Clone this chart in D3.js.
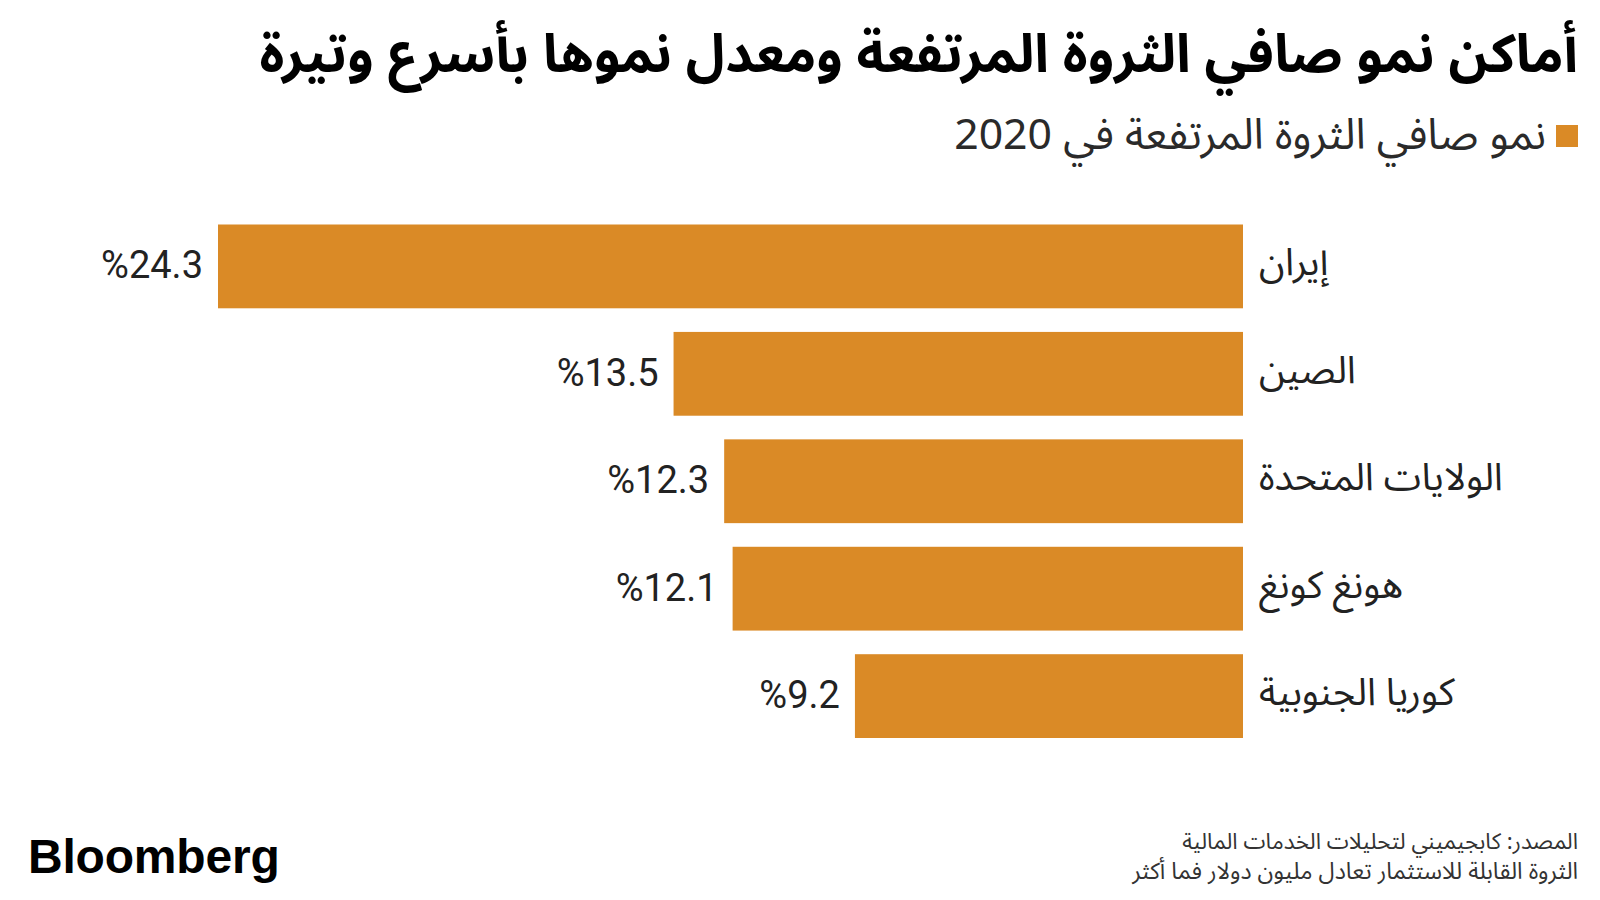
<!DOCTYPE html>
<html lang="ar">
<head>
<meta charset="utf-8">
<script src="https://cdn.jsdelivr.net/npm/d3@7/dist/d3.min.js"></script>
<style>
  html, body { margin: 0; padding: 0; background: #fff; }
  svg { display: block; }
</style>
</head>
<body>
<script>
// ---- data ----
const categories = ["إيران", "الصين", "الولايات المتحدة", "هونغ كونغ", "كوريا الجنوبية"];
const values = [24.3, 13.5, 12.3, 12.1, 9.2];
const valueLabels = ["%24.3", "%13.5", "%12.3", "%12.1", "%9.2"];
const title = "أماكن نمو صافي الثروة المرتفعة ومعدل نموها بأسرع وتيرة";
const legendLabel = "نمو صافي الثروة المرتفعة في 2020";
const sourceLines = ["المصدر: كابجيميني لتحليلات الخدمات المالية", "الثروة القابلة للاستثمار تعادل مليون دولار فما أكثر"];
const brand = "Bloomberg";

const W = 1600, H = 900;
const orange = "#DA8A26";
const arabicFont = "'Noto Sans Arabic', 'Noto Naskh Arabic', 'DejaVu Sans', sans-serif";

const svg = d3.select("body").append("svg").attr("width", W).attr("height", H);
svg.append("rect").attr("width", W).attr("height", H).attr("fill", "#fff");

function fit(sel, target) {
  const s0 = parseFloat(sel.attr("font-size"));
  const w = sel.node().getComputedTextLength();
  if (w > 0) sel.attr("font-size", s0 * target / w);
  return sel;
}

// ---- title ----
const t = svg.append("text")
  .attr("x", 1578).attr("y", 72)
  .attr("direction", "rtl").attr("text-anchor", "start")
  .attr("font-family", arabicFont).attr("font-weight", "bold")
  .attr("font-size", 44).attr("fill", "#000")
  .text(title);
fit(t, 1319);

// ---- legend ----
svg.append("rect").attr("x", 1556).attr("y", 125).attr("width", 22).attr("height", 22).attr("fill", orange);
const lg = svg.append("text")
  .attr("x", 1546).attr("y", 149)
  .attr("direction", "rtl").attr("text-anchor", "start")
  .attr("font-family", arabicFont).attr("font-size", 34).attr("fill", "#2a2a2a")
  .text(legendLabel);
fit(lg, 592);

// ---- scales ----
const x = d3.scaleLinear().domain([0, 25]).range([1243, 1243 - 25 * (1025 / 24.3)]);
const y = d3.scaleBand().domain(categories).range([224.5, 738]).paddingInner(0.22).paddingOuter(0);

const g = svg.append("g");
g.selectAll("rect.bar").data(values).join("rect")
  .attr("class", "bar")
  .attr("x", d => x(d))
  .attr("width", d => x(0) - x(d))
  .attr("y", (d, i) => y(categories[i]))
  .attr("height", y.bandwidth())
  .attr("fill", orange);

g.selectAll("text.val").data(values).join("text")
  .attr("class", "val")
  .attr("x", d => x(d) - 15)
  .attr("y", (d, i) => y(categories[i]) + y.bandwidth() / 2 + 12)
  .attr("direction", "ltr").attr("text-anchor", "end")
  .attr("font-family", "Roboto, 'Liberation Sans', sans-serif")
  .attr("font-size", 38).attr("fill", "#222")
  .text((d, i) => valueLabels[i]);

// category labels
const cats = g.selectAll("text.cat").data(categories).join("text")
  .attr("class", "cat")
  .attr("x", 1259)
  .attr("y", d => y(d) + y.bandwidth() / 2 + 9)
  .attr("direction", "rtl").attr("text-anchor", "end")
  .attr("font-family", arabicFont).attr("font-size", 32).attr("fill", "#222")
  .text(d => d);
// size from the longest label
{
  const node = cats.nodes()[2];
  const w = node.getComputedTextLength();
  if (w > 0) cats.attr("font-size", 32 * 244 / w);
}

// ---- footer ----
const f1 = svg.append("text")
  .attr("x", 1578).attr("y", 849)
  .attr("direction", "rtl").attr("text-anchor", "start")
  .attr("font-family", arabicFont).attr("font-size", 20).attr("fill", "#333")
  .text(sourceLines[0]);
fit(f1, 396);
const f2 = svg.append("text")
  .attr("x", 1578).attr("y", 879)
  .attr("direction", "rtl").attr("text-anchor", "start")
  .attr("font-family", arabicFont).attr("font-size", 20).attr("fill", "#333")
  .text(sourceLines[1]);
fit(f2, 446);

svg.append("text")
  .attr("x", 28).attr("y", 873)
  .attr("font-family", "'Liberation Sans', Arial, sans-serif").attr("font-weight", "bold")
  .attr("font-size", 48).attr("letter-spacing", -0.2).attr("fill", "#000")
  .text(brand);
</script>
</body>
</html>
